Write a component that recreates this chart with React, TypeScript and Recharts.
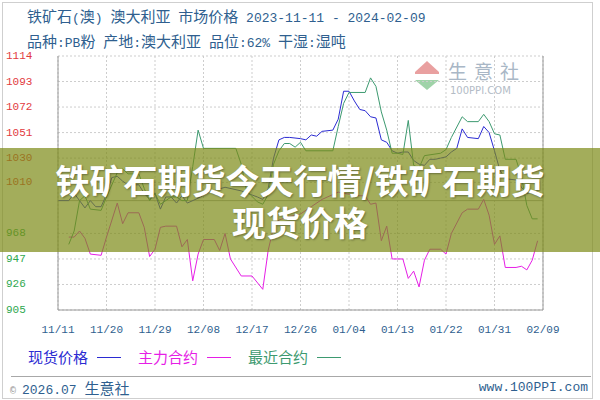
import React from "react";
import { LineChart, Line, XAxis, YAxis, CartesianGrid, ReferenceLine } from "recharts";

// x axis: days since 2023-11-11, one label every 9 days
const dateLabels = ["11/11", "11/20", "11/29", "12/08", "12/17", "12/26", "01/04", "01/13", "01/22", "01/31", "02/09"];
const dayTicks = dateLabels.map((_, i) => i * 9);

const basePrice = 995;
const priceTicks = [905, 926, 947, 968, 995, 1010, 1030, 1051, 1072, 1093, 1114];
const pctTicks = [-9.03, -6.93, -4.83, -2.73, 0, 1.46, 3.56, 5.66, 7.76, 9.85, 11.95];

// 现货价格
const spotDays = [0, 2, 3, 4, 5, 6, 7, 8, 9, 10, 11, 12, 13, 15, 16, 17, 18, 19, 20, 21, 22, 23, 24, 26, 28, 31, 34, 37, 38, 39, 40, 41, 42, 43, 45, 46, 47, 48, 49, 51, 52, 53, 54, 55, 56, 57, 58, 59, 60, 61, 62, 63, 64, 65, 66, 67, 68, 69, 70, 71, 72, 73, 74, 75, 76, 78, 79, 80, 81, 82, 83, 85, 86, 87, 88, 89];
const spotPrices = [995, 995, 1001, 995, 989, 995, 990, 990, 1000, 1014, 1015, 1011, 1008, 1008, 1001, 996, 1001, 988, 998, 998, 993, 999, 993, 997, 1002, 1006, 1003, 998, 996, 1005, 1030, 1045, 1047, 1047, 1046, 1045, 1049, 1048, 1052, 1053, 1062, 1085, 1085, 1077, 1070, 1069, 1064, 1063, 1045, 1043, 1036, 1034, 1035, 1035, 1028, 1025, 1024, 1029, 1029, 1030, 1031, 1035, 1038, 1054, 1047, 1046, 1056, 1051, 1036, 1020, 1013, 1012, 1006, 1001, 1002, 1003];

// 主力合约
const mainDays = [2, 3, 4, 5, 6, 8, 9, 11, 12, 13, 15, 16, 17, 18, 19, 20, 22, 23, 24, 25, 26, 27, 29, 30, 31, 32, 34, 36, 38, 39, 40, 41, 43, 45, 47, 49, 52, 53, 56, 57, 58, 59, 60, 61, 62, 64, 65, 66, 67, 68, 69, 71, 72, 73, 75, 76, 78, 79, 80, 81, 82, 83, 85, 86, 87, 88, 89];
const mainPrices = [965, 965, 970, 964, 951, 950, 965, 993, 976, 985, 985, 973, 949, 955, 973, 974, 974, 957, 963, 929, 951, 963, 963, 954, 968, 947, 933, 933, 922, 954, 973, 979, 982, 984, 990, 996, 1002, 1001, 999, 999, 992, 993, 962, 974, 947, 947, 931, 937, 924, 946, 955, 955, 951, 968, 985, 988, 988, 996, 983, 959, 966, 940, 940, 941, 938, 946, 962];

// 最近合约
const nearDays = [2, 3, 4, 5, 6, 8, 9, 11, 12, 13, 15, 16, 17, 18, 19, 21, 22, 23, 24, 25, 26, 27, 33, 34, 35, 37, 38, 39, 40, 41, 42, 43, 44, 45, 46, 51, 52, 53, 54, 57, 58, 59, 60, 61, 62, 63, 64, 65, 66, 67, 68, 71, 72, 73, 75, 76, 78, 79, 80, 81, 82, 83, 85, 86, 87, 88, 89];
const nearPrices = [959, 970, 995, 999, 988, 987, 998, 1018, 1021, 1017, 1017, 1005, 995, 1001, 992, 998, 998, 995, 995, 1023, 1053, 1038, 1038, 1025, 1003, 994, 992, 1000, 1025, 1036, 1042, 1042, 1039, 1043, 1036, 1036, 1056, 1075, 1084, 1084, 1096, 1089, 1068, 1053, 1034, 1034, 1033, 1061, 1024, 1022, 1032, 1034, 1037, 1047, 1064, 1060, 1060, 1066, 1060, 1050, 1049, 1029, 1029, 1015, 991, 980, 980];

const toPoints = (days: number[], prices: number[]) => days.map((day, i) => ({ day, price: prices[i] }));

const series = [
    { name: "现货价格", color: "#2b2bd2", data: toPoints(spotDays, spotPrices) },
    { name: "主力合约", color: "#e61ee6", data: toPoints(mainDays, mainPrices) },
    { name: "最近合约", color: "#3d9a70", data: toPoints(nearDays, nearPrices) },
];

const MONO = '"Liberation Mono", "DejaVu Sans Mono", monospace';
const CJK = '"Noto Sans CJK SC", sans-serif';
const TEXT_BLUE = "#2f5f8f";

const signColor = (v: number) => (v > 0 ? "#e23a3e" : v < 0 ? "#2fa84f" : "#7c7c7c");

// split into CJK / ascii runs so the ascii part gets the narrow mono face
function Mixed({ text, size = 13 }: { text: string; size?: number }) {
    const parts = text.split(/([\u4e00-\u9fff]+)/).filter(Boolean);
    return (
        <>
            {parts.map((p, i) =>
                /[\u4e00-\u9fff]/.test(p) ? (
                    <span key={i} style={{ fontFamily: CJK, fontSize: size + 2 }}>{p}</span>
                ) : (
                    <span key={i} style={{ fontFamily: MONO, fontSize: size }}>{p}</span>
                )
            )}
        </>
    );
}

const PriceTick = (props: any) => {
    const { y, payload } = props;
    return (
        <text x={6} y={y} dominantBaseline="central" fill={signColor(payload.value - basePrice)} fontSize={11} fontFamily={MONO}>
            {payload.value}
        </text>
    );
};

const PctTick = (props: any) => {
    const { x, y, payload } = props;
    return (
        <text x={x} y={y} dominantBaseline="central" fill={signColor(payload.value)} fontSize={11} fontFamily={MONO}>
            {payload.value.toFixed(2)}%
        </text>
    );
};

const DateTick = (props: any) => {
    const { x, y, payload, index } = props;
    return (
        <text x={x} y={y} textAnchor="middle" dominantBaseline="central" fill={TEXT_BLUE} fontSize={11} fontFamily={MONO}>
            {dateLabels[index] ?? payload.value}
        </text>
    );
};

const bannerLine: React.CSSProperties = {
    position: "absolute",
    left: 0,
    width: 600,
    textAlign: "center",
    color: "#fff",
    fontFamily: CJK,
    fontWeight: 700,
    fontSize: 34,
    lineHeight: "40px",
    textShadow: "1px 1px 2px rgba(0,0,0,0.35)",
    whiteSpace: "nowrap",
};

export default function App() {
    return (
        <div style={{ position: "absolute", left: 0, top: 0, width: 600, height: 400, background: "#fff", overflow: "hidden" }}>
            {/* outer frame */}
            <div style={{ position: "absolute", left: 2, top: 2, width: 589, height: 395, border: "1px solid #cfcfcf" }} />

            {/* title */}
            <div style={{ position: "absolute", left: 27, top: 6, color: TEXT_BLUE, whiteSpace: "pre", lineHeight: "20px" }}>
                <Mixed text="铁矿石(澳) 澳大利亚 市场价格 2023-11-11 - 2024-02-09" />
            </div>
            <div style={{ position: "absolute", left: 27, top: 31, color: TEXT_BLUE, whiteSpace: "pre", lineHeight: "20px" }}>
                <Mixed text="品种:PB粉 产地:澳大利亚 品位:62% 干湿:湿吨" />
            </div>

            {/* watermark */}
            <svg style={{ position: "absolute", left: 412, top: 58, zIndex: 0 }} width={32} height={36}>
                <polygon points="3,14 15,3 27,14" fill="#e9a0a0" />
                <rect x={3} y={14} width={24} height={2} fill="#e9a0a0" />
                <polygon points="3,22 15,32 27,22" fill="#9fd3a8" />
            </svg>
            <div style={{ position: "absolute", left: 448, top: 59, width: 80, fontFamily: CJK, fontSize: 19, lineHeight: "24px", color: "#a9b7c6", letterSpacing: 7, whiteSpace: "nowrap" }}>
                生意社
            </div>
            <div style={{ position: "absolute", left: 450, top: 85, fontFamily: '"DejaVu Sans", sans-serif', fontSize: 10, lineHeight: "12px", color: "#b3bcc6", whiteSpace: "nowrap" }}>
                100PPI.COM
            </div>

            <div style={{ position: "relative", zIndex: 1 }}>
                <LineChart width={600} height={400} margin={{ top: 56, right: 0, bottom: 0, left: 0 }}>
                    <CartesianGrid xAxisId="day" yAxisId="price" stroke="#cdcdcd" strokeDasharray="2 2" />
                    <XAxis
                        xAxisId="day"
                        dataKey="day"
                        type="number"
                        domain={[0, 90]}
                        ticks={dayTicks}
                        height={90}
                        stroke="#9a9a9a"
                        tickSize={0}
                        tickMargin={20}
                        tick={<DateTick />}
                    />
                    <XAxis xAxisId="top" orientation="top" type="number" domain={[0, 90]} height={0} tick={false} tickLine={false} stroke="#9a9a9a" />
                    <YAxis
                        yAxisId="price"
                        type="number"
                        domain={[905, 1114]}
                        ticks={priceTicks}
                        width={58}
                        stroke="#9a9a9a"
                        tickSize={0}
                        tick={<PriceTick />}
                    />
                    <YAxis
                        yAxisId="pct"
                        orientation="right"
                        type="number"
                        domain={[-9.03, 11.95]}
                        ticks={pctTicks}
                        width={57}
                        stroke="#9a9a9a"
                        tickSize={0}
                        tickMargin={5}
                        tick={<PctTick />}
                    />
                    <ReferenceLine xAxisId="day" yAxisId="price" y={basePrice} stroke="#a8a8a8" />
                    {series.map((s) => (
                        <Line
                            key={s.name}
                            xAxisId="day"
                            yAxisId="price"
                            data={s.data}
                            dataKey="price"
                            name={s.name}
                            type="linear"
                            stroke={s.color}
                            strokeWidth={1}
                            dot={false}
                            isAnimationActive={false}
                        />
                    ))}
                </LineChart>
            </div>

            {/* headline banner over the chart */}
            <div style={{ position: "absolute", left: 0, top: 148, width: 600, height: 104, background: "rgba(124,138,21,0.7)", zIndex: 2 }}>
                <div style={{ ...bannerLine, top: 12 }}>铁矿石期货今天行情/铁矿石期货</div>
                <div style={{ ...bannerLine, top: 54 }}>现货价格</div>
            </div>

            {/* legend */}
            <div style={{ position: "absolute", left: 28, top: 347, display: "flex", alignItems: "center", fontFamily: CJK, fontSize: 15, lineHeight: "20px" }}>
                {series.map((s) => (
                    <div key={s.name} style={{ display: "flex", alignItems: "center", color: s.color, marginRight: 17 }}>
                        <span>{s.name}</span>
                        <span style={{ display: "inline-block", width: 24, height: 1, background: s.color, marginLeft: 9 }} />
                    </div>
                ))}
            </div>

            {/* footer */}
            <div style={{ position: "absolute", left: 11, top: 376, width: 580, height: 1, background: "#a8a8a8" }} />
            <div style={{ position: "absolute", left: 10, top: 379, color: TEXT_BLUE, whiteSpace: "pre", lineHeight: "18px" }}>
                <span style={{ fontSize: 10, color: "#8a8a8a", fontFamily: MONO }}>© </span>
                <Mixed text="2026.07 生意社" />
            </div>
            <div style={{ position: "absolute", right: 12, top: 379, color: TEXT_BLUE, fontFamily: MONO, fontSize: 13, lineHeight: "18px" }}>
                www.100PPI.com
            </div>
        </div>
    );
}
